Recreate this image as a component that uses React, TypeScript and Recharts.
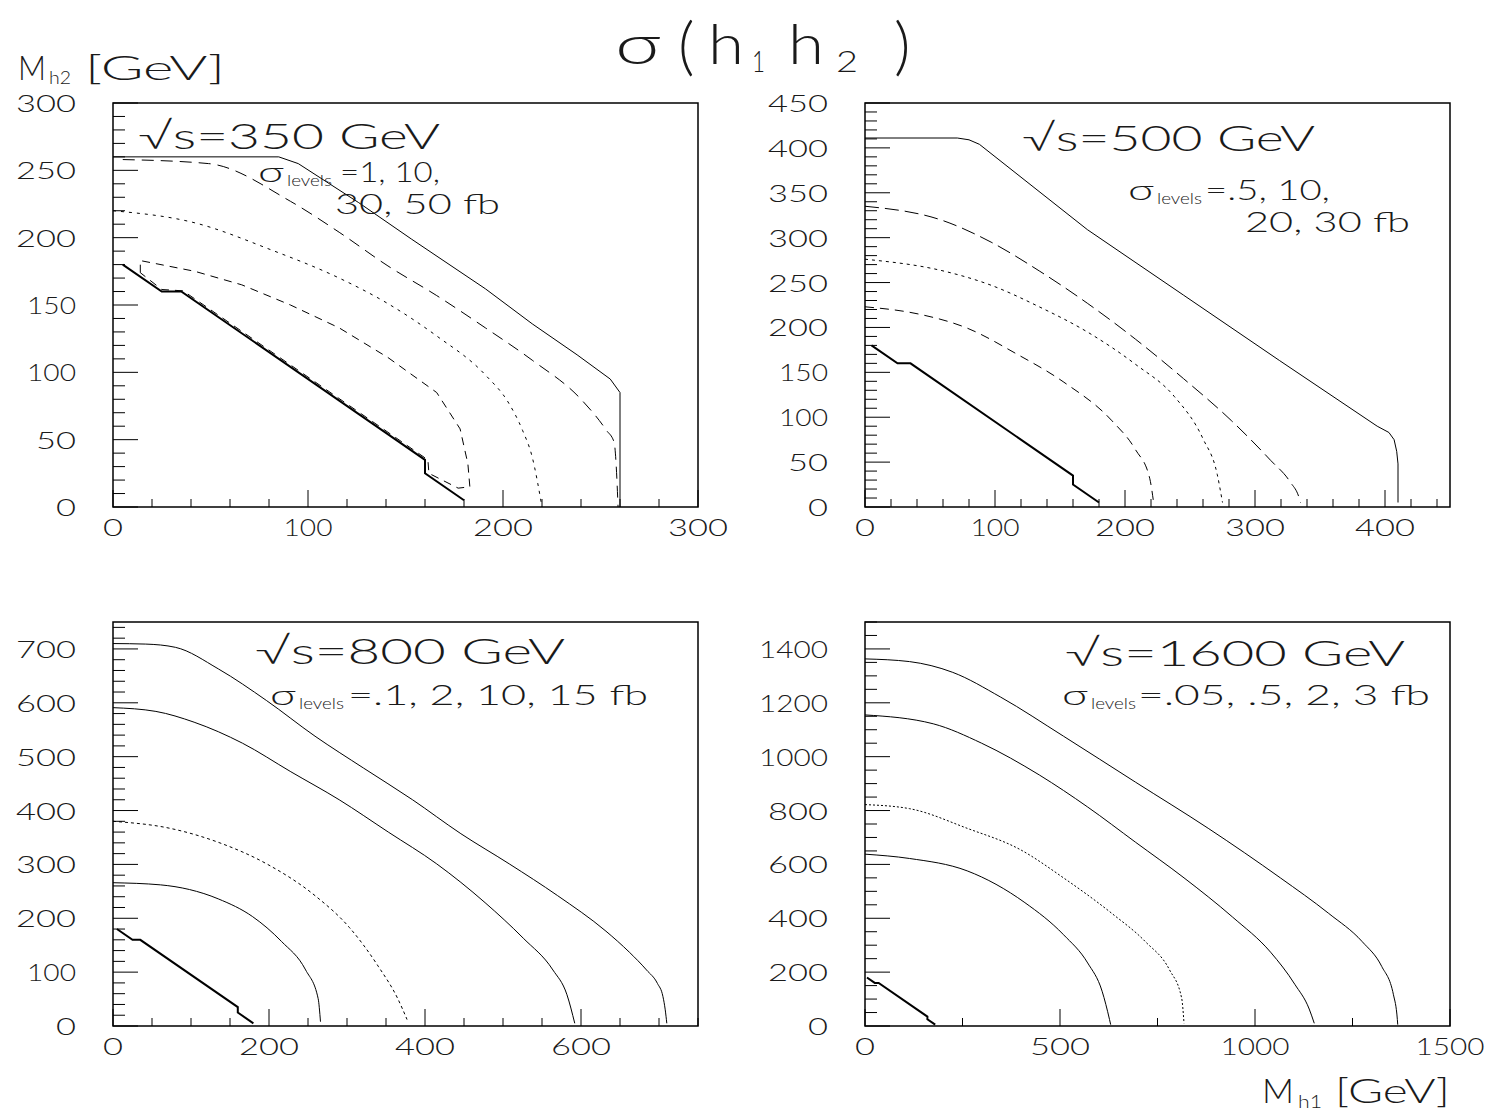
import { ComposedChart, Line, XAxis, YAxis, ReferenceArea } from 'recharts'

type Pt = { x: number; y: number }

// kinematic boundary, same in all four panels
const BOUNDARY: Pt[] = [
  { x: 5, y: 180 }, { x: 25, y: 160 }, { x: 35, y: 160 },
  { x: 160, y: 35 }, { x: 160, y: 25 }, { x: 180, y: 5 },
]

// sqrt(s) = 350 GeV : 1, 10, 30, 50 fb
const P1_C1: Pt[] = [
  { x: 0, y: 260 }, { x: 85, y: 260 }, { x: 95, y: 255 }, { x: 126, y: 226 },
  { x: 153, y: 199 }, { x: 191, y: 162 }, { x: 215, y: 136 }, { x: 238, y: 113 },
  { x: 255, y: 95 }, { x: 260, y: 85 }, { x: 260, y: 0 },
]
const P1_C2: Pt[] = [
  { x: 5, y: 258 }, { x: 49, y: 255 }, { x: 91, y: 227 }, { x: 116, y: 204 },
  { x: 141, y: 179 }, { x: 166, y: 157 }, { x: 191, y: 133 }, { x: 215, y: 109 },
  { x: 240, y: 80 }, { x: 253, y: 57 }, { x: 257, y: 48 }, { x: 258, y: 32 }, { x: 259, y: 0 },
]
const P1_C3: Pt[] = [
  { x: 0, y: 220 }, { x: 42, y: 211 }, { x: 81, y: 191 }, { x: 116, y: 170 },
  { x: 141, y: 151 }, { x: 166, y: 127 }, { x: 191, y: 98 }, { x: 203, y: 77 },
  { x: 210, y: 57 }, { x: 215, y: 37 }, { x: 220, y: 0 },
]
const P1_C4: Pt[] = [
  { x: 14, y: 174 }, { x: 14, y: 183 }, { x: 42, y: 175 }, { x: 66, y: 165 },
  { x: 91, y: 150 }, { x: 116, y: 133 }, { x: 141, y: 111 }, { x: 166, y: 85 },
  { x: 178, y: 58 }, { x: 182, y: 32 }, { x: 183, y: 15 }, { x: 177, y: 14 },
  { x: 162, y: 25 }, { x: 161.5, y: 35 }, { x: 100, y: 96.5 }, { x: 36, y: 160.5 },
  { x: 25, y: 161.5 }, { x: 14, y: 174 },
]

// sqrt(s) = 500 GeV : .5, 10, 20, 30 fb
const P2_C1: Pt[] = [
  { x: 0, y: 411 }, { x: 71, y: 411 }, { x: 80, y: 409 }, { x: 88, y: 404 },
  { x: 171, y: 309 }, { x: 245, y: 236 }, { x: 319, y: 163 }, { x: 394, y: 90 },
  { x: 403, y: 83 }, { x: 407, y: 75 }, { x: 409, y: 62 }, { x: 410, y: 48 }, { x: 410, y: 5 },
]
const P2_C2: Pt[] = [
  { x: 0, y: 335 }, { x: 60, y: 319 }, { x: 97, y: 295 }, { x: 134, y: 263 },
  { x: 171, y: 227 }, { x: 208, y: 187 }, { x: 245, y: 143 }, { x: 282, y: 96 },
  { x: 312, y: 52 }, { x: 327, y: 28 }, { x: 334, y: 10 }, { x: 335, y: 5 },
]
const P2_C3: Pt[] = [
  { x: 0, y: 276 }, { x: 60, y: 263 }, { x: 97, y: 247 }, { x: 134, y: 223 },
  { x: 171, y: 195 }, { x: 208, y: 159 }, { x: 238, y: 123 }, { x: 260, y: 76 },
  { x: 271, y: 36 }, { x: 275, y: 5 },
]
const P2_C4: Pt[] = [
  { x: 0, y: 223 }, { x: 41, y: 215 }, { x: 79, y: 199 }, { x: 116, y: 171 },
  { x: 153, y: 139 }, { x: 190, y: 96 }, { x: 208, y: 64 }, { x: 219, y: 32 }, { x: 222, y: 5 },
]

// sqrt(s) = 800 GeV : .1, 2, 10, 15 fb
const P3_C1: Pt[] = [
  { x: 0, y: 710 }, { x: 42, y: 709 }, { x: 80, y: 703 }, { x: 135, y: 663 },
  { x: 197, y: 604 }, { x: 259, y: 538 }, { x: 321, y: 479 }, { x: 384, y: 420 },
  { x: 446, y: 357 }, { x: 508, y: 301 }, { x: 570, y: 242 }, { x: 632, y: 176 },
  { x: 662, y: 137 }, { x: 684, y: 104 }, { x: 698, y: 79 }, { x: 705, y: 55 },
  { x: 708, y: 30 }, { x: 710, y: 5 },
]
const P3_C2: Pt[] = [
  { x: 0, y: 591 }, { x: 55, y: 584 }, { x: 104, y: 564 }, { x: 166, y: 525 },
  { x: 228, y: 472 }, { x: 290, y: 420 }, { x: 353, y: 360 }, { x: 415, y: 301 },
  { x: 477, y: 229 }, { x: 526, y: 163 }, { x: 564, y: 104 }, { x: 582, y: 58 }, { x: 592, y: 5 },
]
const P3_C3: Pt[] = [
  { x: 0, y: 380 }, { x: 73, y: 367 }, { x: 135, y: 341 }, { x: 197, y: 301 },
  { x: 259, y: 242 }, { x: 303, y: 183 }, { x: 340, y: 111 }, { x: 365, y: 51 }, { x: 377, y: 12 },
]
const P3_C4: Pt[] = [
  { x: 0, y: 266 }, { x: 61, y: 262 }, { x: 135, y: 236 }, { x: 179, y: 203 },
  { x: 216, y: 157 }, { x: 247, y: 104 }, { x: 263, y: 51 }, { x: 266, y: 8 },
]

// sqrt(s) = 1600 GeV : .05, .5, 2, 3 fb
const P4_C1: Pt[] = [
  { x: 0, y: 1363 }, { x: 114, y: 1353 }, { x: 225, y: 1313 }, { x: 348, y: 1221 },
  { x: 509, y: 1076 }, { x: 694, y: 905 }, { x: 880, y: 734 }, { x: 1065, y: 550 },
  { x: 1189, y: 418 }, { x: 1275, y: 313 }, { x: 1325, y: 221 }, { x: 1355, y: 116 },
  { x: 1365, y: 24 }, { x: 1366, y: 5 },
]
const P4_C2: Pt[] = [
  { x: 0, y: 1155 }, { x: 175, y: 1122 }, { x: 299, y: 1050 }, { x: 447, y: 932 },
  { x: 571, y: 813 }, { x: 694, y: 682 }, { x: 818, y: 550 }, { x: 942, y: 405 },
  { x: 1040, y: 274 }, { x: 1102, y: 155 }, { x: 1139, y: 63 }, { x: 1152, y: 10 },
]
const P4_C3: Pt[] = [
  { x: 0, y: 822 }, { x: 114, y: 807 }, { x: 262, y: 734 }, { x: 398, y: 655 },
  { x: 509, y: 550 }, { x: 633, y: 418 }, { x: 719, y: 313 }, { x: 781, y: 208 },
  { x: 812, y: 103 }, { x: 818, y: 10 },
]
const P4_C4: Pt[] = [
  { x: 0, y: 638 }, { x: 114, y: 622 }, { x: 262, y: 576 }, { x: 410, y: 458 },
  { x: 509, y: 339 }, { x: 571, y: 234 }, { x: 608, y: 129 }, { x: 627, y: 24 }, { x: 630, y: 5 },
]

const FONT = 'Lato, "DejaVu Sans", sans-serif'
const WEIGHT = 300
const INK = '#1a1a1a'
const Y_MARGIN = 37
const X_MARGIN = 20

const range = (max: number, step: number) =>
  Array.from({ length: Math.floor(max / step + 1e-9) + 1 }, (_, i) => i * step)

const labelWidth = (s: string) => s.split('').reduce((w, c) => w + (c === '1' ? 9 : 20), 0)

interface Curve {
  data: Pt[]
  dash?: string
  smooth?: boolean
}

interface PanelProps {
  left: number
  top: number
  xMax: number
  yMax: number
  xStep: number
  xMajor: number
  xLabelMax: number
  yStep: number
  yMajor: number
  curves: Curve[]
}

function Panel({ left, top, xMax, yMax, xStep, xMajor, xLabelMax, yStep, yMajor, curves }: PanelProps) {
  const yTick = (p: any) => {
    const v = p.payload.value as number
    const major = v % yMajor === 0
    const ax = p.x + Y_MARGIN
    const s = String(v)
    return (
      <g>
        <line x1={ax} x2={ax + (major ? 25 : 12)} y1={p.y} y2={p.y} stroke="#000" strokeWidth={1} />
        {major && (
          <text x={p.x} y={p.y + 9} textAnchor="end" fontSize={24} fontWeight={WEIGHT} fontFamily={FONT}
            fill={INK} textLength={labelWidth(s)} lengthAdjust="spacingAndGlyphs">{s}</text>
        )}
      </g>
    )
  }
  const xTick = (p: any) => {
    const v = p.payload.value as number
    const major = v % xMajor === 0
    const ay = p.y - X_MARGIN
    const s = String(v)
    return (
      <g>
        <line x1={p.x} x2={p.x} y1={ay} y2={ay - (major ? 17 : 8)} stroke="#000" strokeWidth={1} />
        {major && v <= xLabelMax && (
          <text x={p.x} y={p.y + 9} textAnchor="middle" fontSize={24} fontWeight={WEIGHT} fontFamily={FONT}
            fill={INK} textLength={labelWidth(s)} lengthAdjust="spacingAndGlyphs">{s}</text>
        )}
      </g>
    )
  }
  return (
    <div style={{ position: 'absolute', left: left - 113, top: top - 40 }}>
      <ComposedChart width={748} height={494} margin={{ top: 40, right: 50, bottom: 0, left: 0 }}>
        <XAxis type="number" dataKey="x" domain={[0, xMax]} ticks={range(xMax, xStep)} interval={0}
          allowDataOverflow height={50} tickSize={0} tickMargin={X_MARGIN} axisLine={false}
          tickLine={false} tick={xTick} />
        <YAxis type="number" dataKey="y" domain={[0, yMax]} ticks={range(yMax, yStep)} interval={0}
          allowDataOverflow width={113} tickSize={0} tickMargin={Y_MARGIN} axisLine={false}
          tickLine={false} tick={yTick} />
        <ReferenceArea x1={0} x2={xMax} y1={0} y2={yMax} fill="none" fillOpacity={0}
          stroke="#000" strokeWidth={1.5} />
        {curves.map((c, i) => (
          <Line key={i} data={c.data} dataKey="y" type={c.smooth ? 'monotone' : 'linear'} stroke="#000"
            strokeWidth={1} strokeDasharray={c.dash} dot={false} activeDot={false}
            isAnimationActive={false} />
        ))}
        <Line data={BOUNDARY} dataKey="y" type="linear" stroke="#000" strokeWidth={2}
          dot={false} activeDot={false} isAnimationActive={false} />
      </ComposedChart>
    </div>
  )
}

function T({ x, y, size, len, children }: { x: number; y: number; size: number; len?: number; children: string }) {
  return (
    <text x={x} y={y} fontSize={size} fontWeight={WEIGHT} fontFamily={FONT} fill={INK}
      textLength={len} lengthAdjust={len ? 'spacingAndGlyphs' : undefined}>{children}</text>
  )
}

function Levels({ x, y, eqX, eqLen, text }: { x: number; y: number; eqX: number; eqLen: number; text: string }) {
  return (
    <g>
      <T x={x} y={y} size={28} len={26}>σ</T>
      <T x={x + 29} y={y + 4} size={16} len={45}>levels</T>
      <T x={eqX} y={y} size={28} len={eqLen}>{text}</T>
    </g>
  )
}

export default function App() {
  return (
    <div style={{ position: 'absolute', left: 0, top: 0, width: 1506, height: 1115, background: '#fff', overflow: 'hidden' }}>
      <Panel left={113} top={103} xMax={300} yMax={300} xStep={20} xMajor={100} xLabelMax={300}
        yStep={10} yMajor={50}
        curves={[{ data: P1_C1 }, { data: P1_C2, dash: '12 7', smooth: true }, { data: P1_C3, dash: '3 5', smooth: true }, { data: P1_C4, dash: '8 6' }]} />
      <Panel left={865} top={103} xMax={450} yMax={450} xStep={20} xMajor={100} xLabelMax={400}
        yStep={10} yMajor={50}
        curves={[{ data: P2_C1 }, { data: P2_C2, dash: '14 6', smooth: true }, { data: P2_C3, dash: '3 4', smooth: true }, { data: P2_C4, dash: '9 6', smooth: true }]} />
      <Panel left={113} top={622} xMax={750} yMax={750} xStep={50} xMajor={200} xLabelMax={750}
        yStep={20} yMajor={100}
        curves={[{ data: P3_C1, smooth: true }, { data: P3_C2, smooth: true }, { data: P3_C3, dash: '3 3', smooth: true }, { data: P3_C4, smooth: true }]} />
      <Panel left={865} top={622} xMax={1500} yMax={1500} xStep={250} xMajor={500} xLabelMax={1500}
        yStep={50} yMajor={200}
        curves={[{ data: P4_C1, smooth: true }, { data: P4_C2, smooth: true }, { data: P4_C3, dash: '2 2', smooth: true }, { data: P4_C4, smooth: true }]} />

      <svg width={1506} height={1115} style={{ position: 'absolute', left: 0, top: 0, pointerEvents: 'none' }}>
        {/* main title */}
        <T x={615} y={64} size={56} len={46}>σ</T>
        <T x={678} y={68} size={64}>(</T>
        <T x={708} y={64} size={56} len={36}>h</T>
        <T x={752} y={72} size={30} len={13}>1</T>
        <T x={788} y={64} size={56} len={36}>h</T>
        <T x={836} y={72} size={30} len={22}>2</T>
        <T x={894} y={68} size={64}>)</T>

        {/* axis titles */}
        <T x={18} y={80} size={34} len={28}>M</T>
        <T x={49} y={84} size={18} len={22}>h2</T>
        <T x={85} y={80} size={34} len={140}>[GeV]</T>
        <T x={1262} y={1103} size={34} len={32}>M</T>
        <T x={1298} y={1108} size={18} len={24}>h1</T>
        <T x={1335} y={1103} size={34} len={115}>[GeV]</T>

        {/* panel annotations */}
        <T x={138} y={149} size={36} len={302}>√s=350 GeV</T>
        <Levels x={258} y={182} eqX={340} eqLen={100} text="=1, 10," />
        <T x={335} y={214} size={28} len={165}>30, 50 fb</T>

        <T x={1022} y={151} size={36} len={293}>√s=500 GeV</T>
        <Levels x={1128} y={200} eqX={1205} eqLen={125} text="=.5, 10," />
        <T x={1245} y={232} size={28} len={165}>20, 30 fb</T>

        <T x={255} y={664} size={36} len={310}>√s=800 GeV</T>
        <Levels x={270} y={705} eqX={348} eqLen={300} text="=.1, 2, 10, 15 fb" />

        <T x={1065} y={666} size={36} len={340}>√s=1600 GeV</T>
        <Levels x={1062} y={705} eqX={1138} eqLen={292} text="=.05, .5, 2, 3 fb" />
      </svg>
    </div>
  )
}
